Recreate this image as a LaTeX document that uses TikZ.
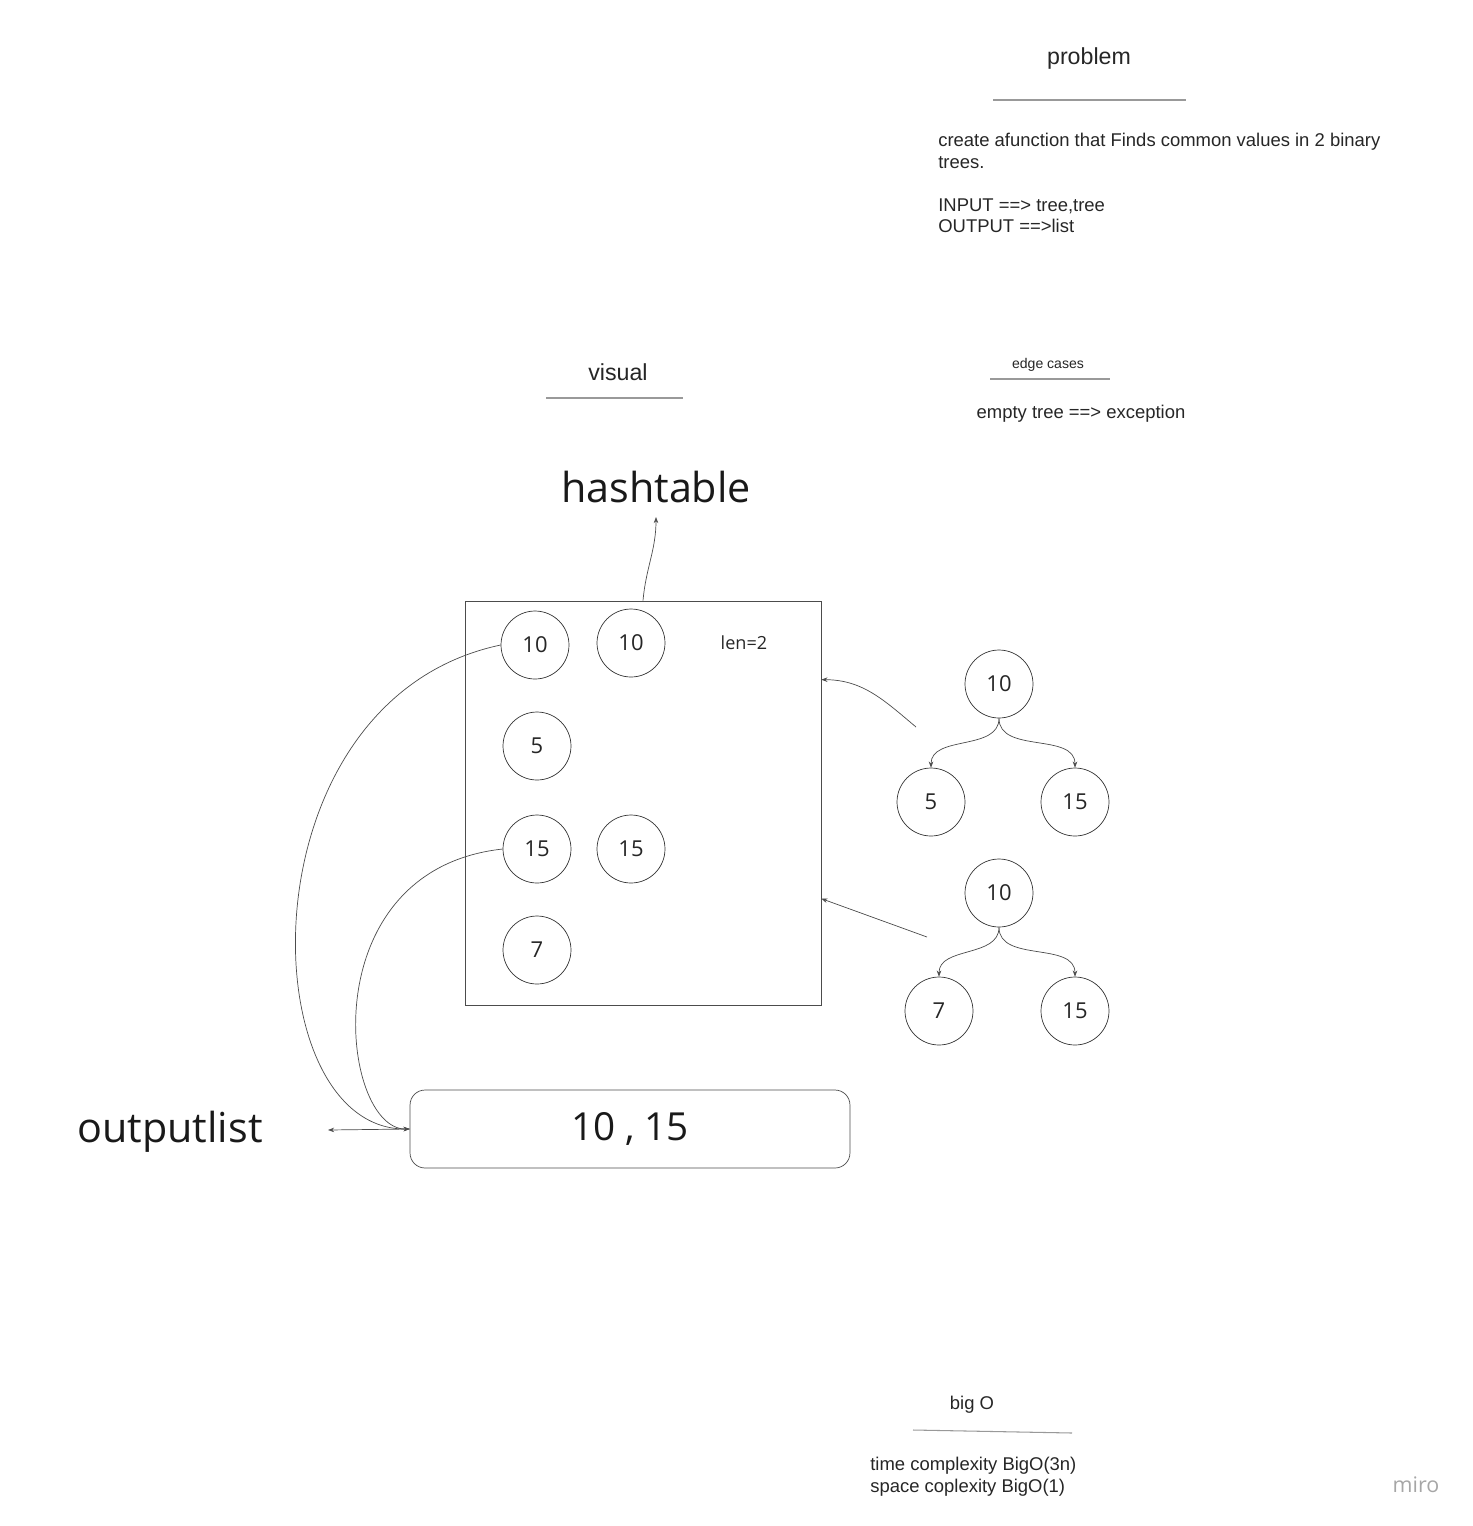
\documentclass[tikz,border=0pt]{standalone}
\usepackage{fontspec}
\setmainfont{Liberation Sans}
\newfontfamily\opensans{Open Sans}
\usetikzlibrary{arrows.meta}

\tikzset{
  valnode/.style={draw=black!80, circle, minimum size=1.36cm, inner sep=0pt, font=\opensans\fontsize{12.5}{14}\selectfont, text=black!85},
  heading/.style={font=\fontsize{13.2}{15}\selectfont, text=black!85},
  bodytext/.style={font=\fontsize{10.5}{12.2}\selectfont, text=black!85, align=left, inner sep=0pt},
  headrule/.style={draw=black!40, line width=0.6pt},
  link/.style={draw=black!70, line width=0.4pt, -{Stealth[length=3.5pt,width=2.6pt]}},
}

\begin{document}
\begin{tikzpicture}[x=0.02cm, y=-0.02cm]
\useasboundingbox (0,0) rectangle (1473,1526);

% problem
\node[heading] (problem) at (1089,58) {problem};
\draw[headrule] (993,100) -- (1186,100);
\node[bodytext, anchor=north west] (statement) at (938,133) {create afunction that Finds common values in 2 binary\\trees.\\[12.2pt]INPUT ==> tree,tree\\OUTPUT ==>list};

% visual
\node[heading] (visual) at (618,372) {visual};
\draw[headrule] (546,398) -- (683,398);

% edge cases
\node[font=\fontsize{8}{9}\selectfont, text=black!85] (edge) at (1048,365) {edge cases};
\draw[headrule] (990,379) -- (1110,379);
\node[bodytext] (empty) at (1081,414) {empty tree ==> exception};

% hashtable
\node[font=\opensans\fontsize{23.5}{26}\selectfont, text=black!90] (hashlbl) at (656,487) {hashtable};
\node[draw=black!70, minimum width=7.12cm, minimum height=8.08cm, inner sep=0pt] (hashbox) at (643,803) {};
\coordinate (hashtip) at (656,517);
\draw[link] (hashbox.north) to[out=85,in=-90] (hashtip);

\node[valnode] (h10a) at (535,645) {10};
\node[valnode] (h10b) at (631,643) {10};
\node[font=\opensans\fontsize{10.3}{12}\selectfont, text=black!85] (len) at (744,643) {len=2};
\node[valnode] (h5) at (537,746) {5};
\node[valnode] (h15a) at (537,849) {15};
\node[valnode] (h15b) at (631,849) {15};
\node[valnode] (h7) at (537,950) {7};

% tree one
\node[valnode] (ta) at (999,684) {10};
\node[valnode] (tal) at (931,802) {5};
\node[valnode] (tar) at (1075,802) {15};
\draw[link] (ta.south) to[out=-90,in=90] (tal.north);
\draw[link] (ta.south) to[out=-90,in=90] (tar.north);
\coordinate (tatail) at (916,727);
\draw[link] (tatail) to[out=140,in=0] ([yshift=-1.58cm]hashbox.north east);

% tree two
\node[valnode] (tb) at (999,893) {10};
\node[valnode] (tbl) at (939,1011) {7};
\node[valnode] (tbr) at (1075,1011) {15};
\draw[link] (tb.south) to[out=-90,in=90] (tbl.north);
\draw[link] (tb.south) to[out=-90,in=90] (tbr.north);
\coordinate (tbtail) at (927,937);
\draw[link] (tbtail) -- ([yshift=-5.96cm]hashbox.north east);

% output list
\node[draw=black!70, rounded corners=0.3cm, minimum width=8.8cm, minimum height=1.56cm, inner sep=0pt, font=\opensans\fontsize{22}{24}\selectfont, text=black!90] (outbox) at (630,1129) {10 , 15};
\draw[link] (h10a.west) .. controls (240,700) and (250,1130) .. (outbox.west);
\draw[link] (h15a.west) .. controls (310,870) and (340,1130) .. (outbox.west);
\coordinate (outtip) at (328,1130);
\draw[link] (outbox.west) -- (outtip);
\node[font=\opensans\fontsize{23.5}{26}\selectfont, text=black!90] (outlbl) at (170,1132) {outputlist};

% big O
\node[bodytext] (bigo) at (972,1405) {big O};
\draw[headrule] (913,1430) -- (1072,1433);
\node[bodytext, anchor=north west] (complexity) at (870,1457) {time complexity BigO(3n)\\space coplexity BigO(1)};

\node[font=\opensans\fontsize{12.2}{14}\selectfont, text=black!35] (miro) at (1416,1485) {miro};
\end{tikzpicture}
\end{document}
